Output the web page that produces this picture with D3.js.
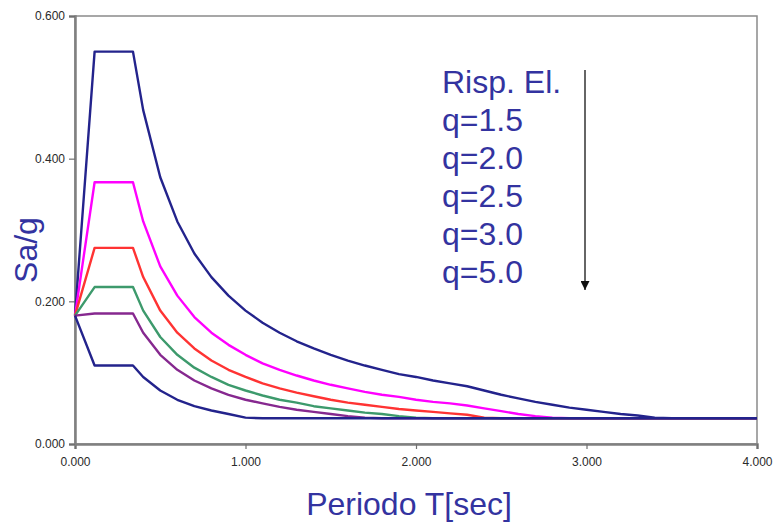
<!DOCTYPE html>
<html>
<head>
<meta charset="utf-8">
<script src="https://cdn.jsdelivr.net/npm/d3@7"></script>
<style>
  html, body { margin: 0; padding: 0; background: #fff; }
  svg { display: block; font-family: "Liberation Sans", Arial, sans-serif; }
</style>
</head>
<body>
<div id="grafico"></div>
<script>
// periodi T [sec]
const periodi = [0, 0.115, 0.34, 0.4, 0.5, 0.6, 0.7, 0.8, 0.9, 1.0,
  1.1, 1.2, 1.3, 1.4, 1.5, 1.6, 1.7, 1.8, 1.9, 2.0,
  2.1, 2.2, 2.3, 2.4, 2.5, 2.6, 2.7, 2.8, 2.9, 3.0,
  3.1, 3.2, 3.3, 3.4, 3.5, 3.6, 3.7, 3.8, 3.9, 4.0];

// Sa/g
const rispEl = [0.18, 0.55, 0.55, 0.468, 0.374, 0.312, 0.267, 0.234, 0.208, 0.187,
  0.170, 0.156, 0.144, 0.134, 0.125, 0.117, 0.110, 0.104, 0.098, 0.094,
  0.089, 0.085, 0.081, 0.075, 0.069, 0.064, 0.059, 0.055, 0.051, 0.048,
  0.045, 0.042, 0.040, 0.037, 0.036, 0.036, 0.036, 0.036, 0.036, 0.036];
const q15 = [0.18, 0.367, 0.367, 0.312, 0.249, 0.208, 0.178, 0.156, 0.139, 0.125,
  0.113, 0.104, 0.096, 0.089, 0.083, 0.078, 0.073, 0.069, 0.066, 0.062,
  0.059, 0.057, 0.054, 0.050, 0.046, 0.042, 0.039, 0.037, 0.036, 0.036,
  0.036, 0.036, 0.036, 0.036, 0.036, 0.036, 0.036, 0.036, 0.036, 0.036];
const q20 = [0.18, 0.275, 0.275, 0.234, 0.187, 0.156, 0.134, 0.117, 0.104, 0.094,
  0.085, 0.078, 0.072, 0.067, 0.062, 0.058, 0.055, 0.052, 0.049, 0.047,
  0.045, 0.043, 0.041, 0.037, 0.036, 0.036, 0.036, 0.036, 0.036, 0.036,
  0.036, 0.036, 0.036, 0.036, 0.036, 0.036, 0.036, 0.036, 0.036, 0.036];
const q25 = [0.18, 0.22, 0.22, 0.187, 0.150, 0.125, 0.107, 0.094, 0.083, 0.075,
  0.068, 0.062, 0.058, 0.053, 0.050, 0.047, 0.044, 0.042, 0.039, 0.037,
  0.036, 0.036, 0.036, 0.036, 0.036, 0.036, 0.036, 0.036, 0.036, 0.036,
  0.036, 0.036, 0.036, 0.036, 0.036, 0.036, 0.036, 0.036, 0.036, 0.036];
const q30 = [0.18, 0.183, 0.183, 0.156, 0.125, 0.104, 0.089, 0.078, 0.069, 0.062,
  0.057, 0.052, 0.048, 0.045, 0.042, 0.039, 0.037, 0.036, 0.036, 0.036,
  0.036, 0.036, 0.036, 0.036, 0.036, 0.036, 0.036, 0.036, 0.036, 0.036,
  0.036, 0.036, 0.036, 0.036, 0.036, 0.036, 0.036, 0.036, 0.036, 0.036];
const q50 = [0.18, 0.11, 0.11, 0.094, 0.075, 0.062, 0.053, 0.047, 0.042, 0.037,
  0.036, 0.036, 0.036, 0.036, 0.036, 0.036, 0.036, 0.036, 0.036, 0.036,
  0.036, 0.036, 0.036, 0.036, 0.036, 0.036, 0.036, 0.036, 0.036, 0.036,
  0.036, 0.036, 0.036, 0.036, 0.036, 0.036, 0.036, 0.036, 0.036, 0.036];

const nomiSerie = ["Risp. El.", "q=1.5", "q=2.0", "q=2.5", "q=3.0", "q=5.0"];
const valoriSerie = [rispEl, q15, q20, q25, q30, q50];
const colori = ["#23238c", "#ff00ff", "#ff3333", "#3d9a6c", "#86288f", "#23238c"];

const xTicks = [0, 1, 2, 3, 4];
const yTicks = [0, 0.2, 0.4, 0.6];

const width = 773, height = 528;
const margin = { top: 16, right: 16, bottom: 84, left: 75 };

const svg = d3.select("#grafico")
  .append("svg")
  .attr("width", width)
  .attr("height", height);

const x = d3.scaleLinear().domain([0, 4]).range([margin.left, width - margin.right]);
const y = d3.scaleLinear().domain([0, 0.6]).range([height - margin.bottom, margin.top]);

// bordo area del grafico
svg.append("rect")
  .attr("x", x(0)).attr("y", y(0.6))
  .attr("width", x(4) - x(0)).attr("height", y(0) - y(0.6))
  .attr("fill", "none")
  .attr("stroke", "#8a8a8a")
  .attr("stroke-width", 1.5);

// assi
const fmt = d3.format(".3f");

const gx = svg.append("g")
  .attr("transform", `translate(0,${y(0)})`)
  .call(d3.axisBottom(x).tickValues(xTicks).tickFormat(fmt).tickSize(5).tickPadding(8));

const gy = svg.append("g")
  .attr("transform", `translate(${x(0)},0)`)
  .call(d3.axisLeft(y).tickValues(yTicks).tickFormat(fmt).tickSize(6).tickPadding(4));

[gx, gy].forEach(g => {
  g.select(".domain").attr("stroke", "#808080").attr("stroke-width", 2.5);
  g.selectAll(".tick line").attr("stroke", "#707070").attr("stroke-width", 1.2);
  g.selectAll(".tick text")
    .attr("fill", "#2a2a2a")
    .style("font-size", "12px")
    .style("font-family", "'Liberation Sans', Arial, sans-serif");
});

// curve
const linea = d3.line()
  .x((d, i) => x(periodi[i]))
  .y(d => y(d));

svg.append("g")
  .selectAll("path")
  .data(valoriSerie)
  .join("path")
  .attr("fill", "none")
  .attr("stroke", (d, i) => colori[i])
  .attr("stroke-width", 2.4)
  .attr("stroke-linejoin", "round")
  .attr("d", linea);

// titoli assi
svg.append("text")
  .attr("x", 409).attr("y", 515)
  .attr("text-anchor", "middle")
  .attr("fill", "#3333a0")
  .style("font-size", "32px")
  .text("Periodo T[sec]");

svg.append("text")
  .attr("transform", "translate(37,250) rotate(-90)")
  .attr("text-anchor", "middle")
  .attr("fill", "#3333a0")
  .style("font-size", "32px")
  .text("Sa/g");

// legenda
svg.append("g")
  .selectAll("text")
  .data(nomiSerie)
  .join("text")
  .attr("x", 442)
  .attr("y", (d, i) => 93 + i * 38)
  .attr("fill", "#3333a0")
  .style("font-size", "32px")
  .text(d => d);

// freccia
svg.append("defs").append("marker")
  .attr("id", "punta")
  .attr("viewBox", "0 0 10 10")
  .attr("refX", 10).attr("refY", 5)
  .attr("markerWidth", 6).attr("markerHeight", 6)
  .attr("markerUnits", "strokeWidth")
  .attr("orient", "auto")
  .append("path")
  .attr("d", "M0,0 L10,5 L0,10 z")
  .attr("fill", "#111");

svg.append("line")
  .attr("x1", 585).attr("y1", 70)
  .attr("x2", 585).attr("y2", 290)
  .attr("stroke", "#333")
  .attr("stroke-width", 1.5)
  .attr("marker-end", "url(#punta)");
</script>
</body>
</html>
